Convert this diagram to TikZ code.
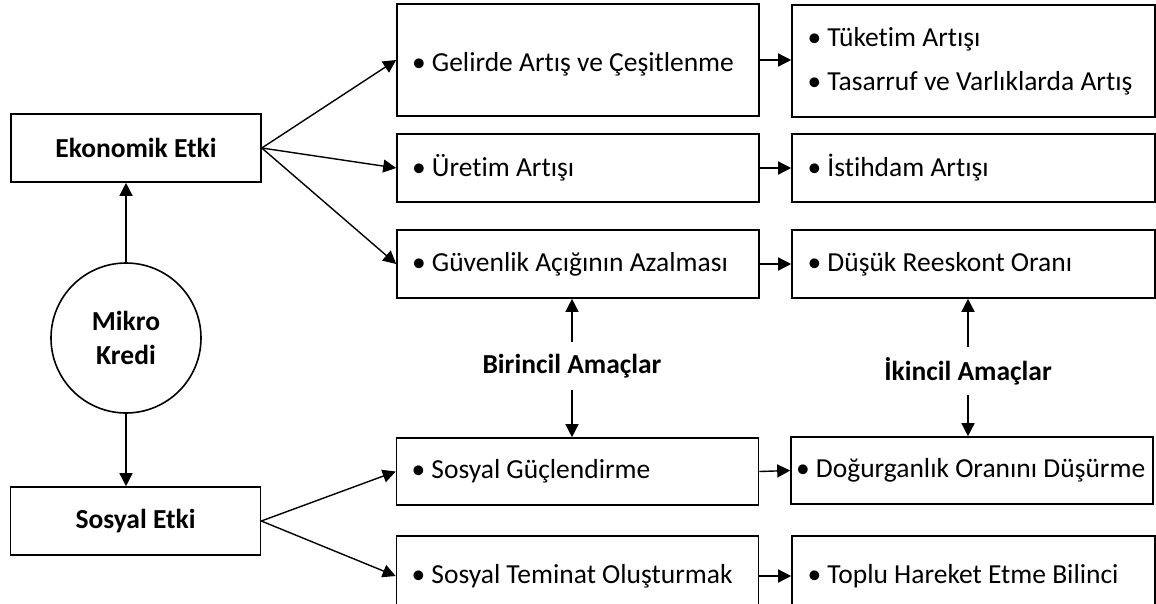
\documentclass[tikz,border=0pt]{standalone}
\usepackage{fontspec}
\setmainfont{Carlito}[Ligatures=NoCommon]
\usetikzlibrary{arrows.meta}

\newcommand{\basefont}{\fontsize{27.5pt}{33pt}\selectfont}

\begin{document}
\begin{tikzpicture}[x=1pt,y=-1pt,
  every node/.style={font=\basefont},
  box/.style={draw, line width=1.6pt, rectangle, inner ysep=0pt},
  mainbox/.style={box, minimum width=250pt, minimum height=68pt,
    font=\basefont\bfseries},
  itembox/.style={box, minimum width=362pt, minimum height=68pt,
    inner xsep=14pt, text width=332pt, align=flush left},
  goal/.style={font=\basefont\bfseries, minimum height=48pt, inner ysep=0pt},
  link/.style={line width=1.4pt, -{Triangle[length=13pt,width=13pt]}}
]
\useasboundingbox (0,0) rectangle (1156,603);

% left column: the two impact types and the source
\node[mainbox] (eko) at (136,148) {Ekonomik Etki};
\node[mainbox] (sos) at (135.5,521) {Sosyal Etki};
\node[draw, line width=1.6pt, circle, minimum size=150pt, inner sep=0pt,
  align=center, font=\fontsize{27.5pt}{34pt}\selectfont\bfseries]
  (mk) at (126,338) {Mikro\\Kredi};

% middle column: primary goals
\node[itembox, minimum height=112pt, text height=28pt] (g1) at (578,60)
  {• Gelirde Artış ve Çeşitlenme};
\node[itembox] (g2) at (578,168) {• Üretim Artışı};
\node[itembox] (g3) at (578,264) {• Güvenlik Açığının Azalması};
\node[itembox, minimum height=67pt] (g4) at (577.5,471.5) {• Sosyal Güçlendirme};
\node[itembox, minimum height=80pt] (g5) at (577.5,576) {• Sosyal Teminat Oluşturmak};

% right column: secondary goals
\node[itembox, minimum width=363pt, minimum height=112pt,
  font=\fontsize{27.5pt}{44pt}\selectfont] (r1) at (973.5,61)
  {• Tüketim Artışı\\• Tasarruf ve Varlıklarda Artış};
\node[itembox, minimum width=363pt] (r2) at (973.5,168) {• İstihdam Artışı};
\node[itembox, minimum width=363pt] (r3) at (973.5,264) {• Düşük Reeskont Oranı};
\node[itembox, minimum width=362pt, minimum height=67pt, inner xsep=5pt,
  text width=352pt] (r4) at (972,470.5) {• Doğurganlık Oranını Düşürme};
\node[itembox, minimum width=363pt, minimum height=80pt] (r5) at (973.5,576)
  {• Toplu Hareket Etme Bilinci};

% goal labels
\node[goal] (b1) at (572,366) {Birincil Amaçlar};
\node[goal] (b2) at (968,371) {İkincil Amaçlar};

% connectors
\draw[link] (mk.north) -- (mk.north |- eko.south);
\draw[link] (mk.south) -- (mk.south |- sos.north);

\draw[link] (eko.east) -- (g1.west);
\draw[link] (eko.east) -- (g2.west);
\draw[link] (eko.east) -- (g3.west);
\draw[link] (sos.east) -- (g4.west);
\draw[link] (sos.east) -- (g5.west);

\draw[link] (g1.east) -- (g1.east -| r1.west);
\draw[link] (g2.east) -- (r2.west);
\draw[link] (g3.east) -- (r3.west);
\draw[link] (g4.east) -- (r4.west);
\draw[link] (g5.east) -- (r5.west);

\draw[link] (b1.north) -- (b1.north |- g3.south);
\draw[link] (b1.south) -- (b1.south |- g4.north);
\draw[link] (b2.north) -- (b2.north |- r3.south);
\draw[link] (b2.south) -- (b2.south |- r4.north);
\end{tikzpicture}
\end{document}
